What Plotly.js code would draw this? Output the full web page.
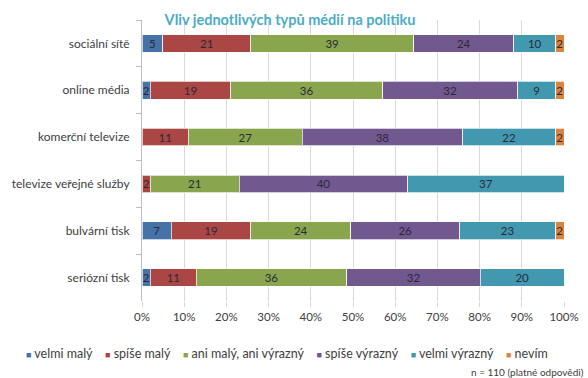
<!DOCTYPE html>
<html>
<head>
<meta charset="utf-8">
<script src="https://cdn.plot.ly/plotly-3.0.1.min.js"></script>
<style>html,body{margin:0;padding:0;background:#fff;}#chart{width:588px;height:378px;}</style>
</head>
<body>
<div id="chart"></div>
<script>
const categories = ["sociální sítě", "online média", "komerční televize", "televize veřejné služby", "bulvární tisk", "seriózní tisk"];
const seriesNames = ["velmi malý", "spíše malý", "ani malý, ani výrazný", "spíše výrazný", "velmi výrazný", "nevím"];
const velmiMaly      = [5, 2, 0, 0, 7, 2];
const spiseMaly      = [21, 19, 11, 2, 19, 11];
const aniMalyAni     = [39, 36, 27, 21, 24, 36];
const spiseVyrazny   = [24, 32, 38, 40, 26, 32];
const velmiVyrazny   = [10, 9, 22, 37, 23, 20];
const nevim          = [2, 2, 2, 0, 2, 0];
const xTickLabels = ["0%", "10%", "20%", "30%", "40%", "50%", "60%", "70%", "80%", "90%", "100%"];
const xTickVals = [0, 10, 20, 30, 40, 50, 60, 70, 80, 90, 100];
const title = "Vliv jednotlivých typů médií na politiku";
const note = "n = 110 (platné odpovědi)";

const seriesValues = [velmiMaly, spiseMaly, aniMalyAni, spiseVyrazny, velmiVyrazny, nevim];
const colors = ["#4572A7", "#AA4643", "#89A54E", "#71588F", "#4198AF", "#DB843D"];

const traces = seriesValues.map((vals, i) => ({
  type: "bar",
  orientation: "h",
  name: seriesNames[i],
  y: categories,
  x: vals,
  text: vals.map(v => v > 0 ? String(v) : ""),
  textposition: "inside",
  insidetextanchor: "middle",
  textangle: 0,
  constraintext: "none",
  textfont: {family: "Lato, sans-serif", size: 11.5, color: "#2a2a3a"},
  marker: {color: colors[i], line: {color: "rgba(255,255,255,0.7)", width: 1}},
  width: 0.38,
  hoverinfo: "skip",
  showlegend: false
}));

// legend drawn as one text line built from the series names and colours
const nb = "\u00A0";
const legendText = seriesNames.map((n, i) =>
  '<span style="color:' + colors[i] + ';font-size:9px">■</span>' + nb + n
).join(nb + nb + nb + nb);

const plotL = 142, plotT = 20, plotW = 588 - 142 - 24, plotH = 378 - 20 - 77;

const layout = {
  width: 588, height: 378,
  margin: {l: 142, r: 24, t: 20, b: 77},
  paper_bgcolor: "#ffffff", plot_bgcolor: "#ffffff",
  barmode: "stack",
  barnorm: "percent",
  font: {family: "Lato, sans-serif", color: "#404040", size: 11},
  title: {
    text: "<b>" + title + "</b>",
    font: {family: "Lato, sans-serif", size: 14.5, color: "#4BACC6"},
    x: 290 / 588, xanchor: "center", xref: "container",
    y: 1 - 20 / 378, yanchor: "middle", yref: "container"
  },
  xaxis: {
    range: [0, 100],
    tickvals: xTickVals, ticktext: xTickLabels,
    showgrid: true, gridcolor: "#D9D9D9", gridwidth: 1,
    zeroline: false,
    showline: false,
    ticks: "outside", ticklen: 5, tickcolor: "#D9D9D9",
    tickfont: {size: 11.5, color: "#404040"},
    fixedrange: true
  },
  yaxis: {
    type: "category",
    autorange: "reversed",
    showline: true, linecolor: "#BFBFBF", linewidth: 1,
    ticks: "outside", ticklen: 5, tickcolor: "#BFBFBF",
    tickson: "boundaries",
    showgrid: false,
    ticklabelstandoff: 9,
    tickfont: {size: 12, color: "#404040"},
    fixedrange: true
  },
  showlegend: false,
  annotations: [{
    text: legendText,
    xref: "paper", yref: "paper",
    x: (286.5 - plotL) / plotW, xanchor: "center",
    y: 1 - (353 - plotT) / plotH, yanchor: "middle",
    showarrow: false,
    font: {size: 12.5, color: "#404040"}
  }, {
    text: note,
    xref: "paper", yref: "paper",
    x: (586 - plotL) / plotW, xanchor: "right",
    y: 1 - (372 - plotT) / plotH, yanchor: "middle",
    showarrow: false,
    font: {size: 10, color: "#404040"}
  }]
};

Plotly.newPlot("chart", traces, layout, {displayModeBar: false, staticPlot: true});
</script>
</body>
</html>
